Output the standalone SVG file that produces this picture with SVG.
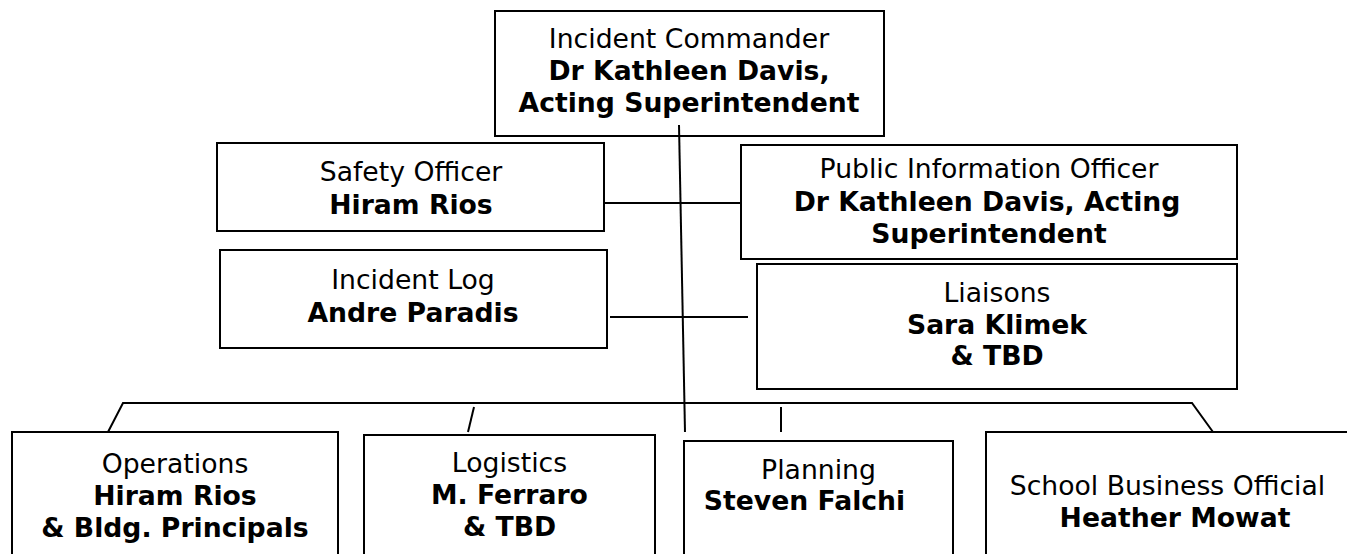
<svg xmlns="http://www.w3.org/2000/svg" width="1347" height="554" viewBox="0 0 1347 554">
<style>
.box{fill:#fff;stroke:#000;stroke-width:2}
.ln{fill:none;stroke:#000;stroke-width:2}
text{font-family:Verdana,"DejaVu Sans",sans-serif;font-size:26.67px;fill:#000;text-anchor:middle}
.b{font-weight:bold}
</style>
<rect width="1347" height="554" fill="#fff"/>
<g id="connectors">
<polyline class="ln" points="108,432 123,403 1192,403 1213,432"/>
<line class="ln" x1="474" y1="407" x2="468" y2="432"/>
<line class="ln" x1="781" y1="407" x2="781" y2="432"/>
<line class="ln" x1="605" y1="203" x2="741" y2="203"/>
<line class="ln" x1="610" y1="317" x2="748" y2="317"/>
</g>
<g id="incident-commander">
<rect class="box" x="495" y="11" width="389" height="125"/>
<text x="689" y="48">Incident Commander</text>
<text class="b" x="689" y="80">Dr Kathleen Davis,</text>
<text class="b" x="689" y="112">Acting Superintendent</text>
</g>
<g id="safety-officer">
<rect class="box" x="217" y="143" width="387" height="88"/>
<text x="411" y="181">Safety Officer</text>
<text class="b" x="411" y="214">Hiram Rios</text>
</g>
<g id="pio">
<rect class="box" x="741" y="145" width="496" height="114"/>
<text x="989" y="178">Public Information Officer</text>
<text class="b" x="987" y="211">Dr Kathleen Davis, Acting</text>
<text class="b" x="989" y="243">Superintendent</text>
</g>
<g id="incident-log">
<rect class="box" x="220" y="250" width="387" height="98"/>
<text x="413" y="289">Incident Log</text>
<text class="b" x="413" y="322">Andre Paradis</text>
</g>
<g id="liaisons">
<rect class="box" x="757" y="264" width="480" height="125"/>
<text x="997" y="302">Liaisons</text>
<text class="b" x="997" y="334">Sara Klimek</text>
<text class="b" x="997" y="365">&amp; TBD</text>
</g>
<g id="operations">
<rect class="box" x="12" y="432" width="326" height="170"/>
<text x="175" y="473">Operations</text>
<text class="b" x="175" y="505">Hiram Rios</text>
<text class="b" x="175" y="537">&amp; Bldg. Principals</text>
</g>
<g id="logistics">
<rect class="box" x="364" y="435" width="291" height="170"/>
<text x="509.5" y="472">Logistics</text>
<text class="b" x="509.5" y="504">M. Ferraro</text>
<text class="b" x="509.5" y="536">&amp; TBD</text>
</g>
<g id="planning">
<rect class="box" x="684" y="441" width="269" height="170"/>
<text x="818.5" y="479">Planning</text>
<text class="b" x="804.5" y="510">Steven Falchi</text>
</g>
<g id="school-business-official">
<rect class="box" x="986" y="432" width="400" height="170"/>
<text x="1167.5" y="495">School Business Official</text>
<text class="b" x="1175" y="527">Heather Mowat</text>
</g>
<g id="main-line">
<line class="ln" x1="679" y1="125" x2="685" y2="432"/>
</g>
</svg>
